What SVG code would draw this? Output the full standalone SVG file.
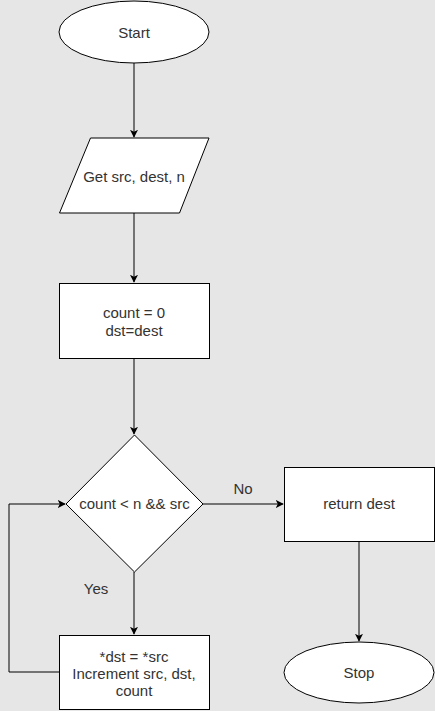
<svg xmlns="http://www.w3.org/2000/svg" width="435" height="711" viewBox="0 0 435 711">
<defs>
<marker id="arr" viewBox="0 0 10 10" refX="9" refY="5" markerWidth="8" markerHeight="8" markerUnits="userSpaceOnUse" orient="auto">
<path d="M0,0 L10,5 L0,10 L2.5,5 Z" fill="#000"/>
</marker>
</defs>
<style>
.shape{fill:#fff;stroke:#000;stroke-width:1}
.lbl{font-family:"Liberation Sans",Arial,sans-serif;font-size:15px;fill:#333;text-anchor:middle}
.edge{fill:none;stroke:#000;stroke-width:1;marker-end:url(#arr)}
</style>
<rect width="435" height="711" fill="#e6e6e6"/>
<g id="connectors">
<path class="edge" d="M134,63 L134,137"/>
<path class="edge" d="M134,213 L134,282"/>
<path class="edge" d="M134,358 L134,434"/>
<path class="edge" d="M134,572 L134,634"/>
<path class="edge" d="M203,504 L283,504"/>
<path class="edge" d="M359,541 L359,641"/>
<path class="edge" d="M59,672 L9,672 L9,504 L65,504"/>
<text class="lbl" x="243" y="494">No</text>
<text class="lbl" x="96" y="594">Yes</text>
</g>
<g id="start">
<ellipse class="shape" cx="134" cy="32" rx="75" ry="31"/>
<text class="lbl" x="134" y="38">Start</text>
</g>
<g id="input">
<polygon class="shape" points="90.5,138 209,138 179.5,213 59.5,213"/>
<text class="lbl" x="134" y="182">Get src, dest, n</text>
</g>
<g id="init">
<rect class="shape" x="59.5" y="283.5" width="150" height="75"/>
<text class="lbl" x="134" y="318">count = 0</text>
<text class="lbl" x="134" y="336">dst=dest</text>
</g>
<g id="decision">
<polygon class="shape" points="134.5,435 203,504 134.5,572 66,504"/>
<text class="lbl" x="134.5" y="509">count &lt; n &amp;&amp; src</text>
</g>
<g id="return">
<rect class="shape" x="284.5" y="467.5" width="150" height="74"/>
<text class="lbl" x="359" y="509">return dest</text>
</g>
<g id="copy">
<rect class="shape" x="59.5" y="635.5" width="150" height="74"/>
<text class="lbl" x="134" y="662">*dst = *src</text>
<text class="lbl" x="134" y="679">Increment src, dst,</text>
<text class="lbl" x="134" y="696">count</text>
</g>
<g id="stop">
<ellipse class="shape" cx="359" cy="672.5" rx="75" ry="30.5"/>
<text class="lbl" x="359" y="678">Stop</text>
</g>
</svg>
